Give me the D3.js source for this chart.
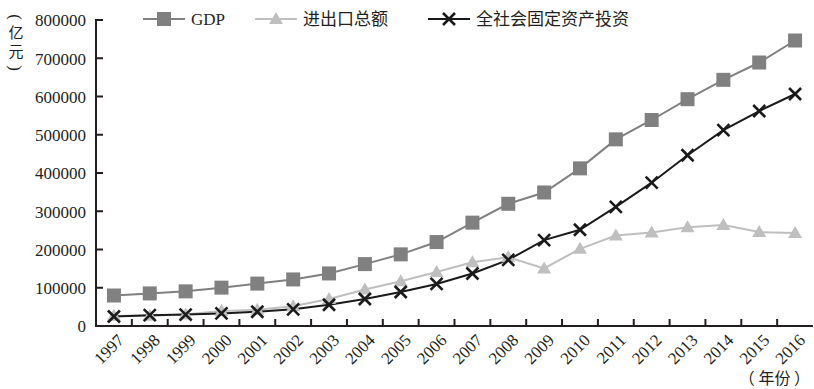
<!DOCTYPE html>
<html>
<head>
<meta charset="utf-8">
<script src="https://cdn.jsdelivr.net/npm/d3@7"></script>
<style>
  body { margin: 0; background: #fff; }
  svg text { font-family: "Liberation Serif", "Noto Sans CJK SC", serif; fill: #231f20; }
  .cjk { font-family: "Noto Sans CJK SC", sans-serif; }
</style>
</head>
<body>
<div id="chart"></div>
<script>
// data (亿元)
var years = ["1997","1998","1999","2000","2001","2002","2003","2004","2005","2006",
             "2007","2008","2009","2010","2011","2012","2013","2014","2015","2016"];
var gdp = [79715, 85196, 90564, 100280, 110863, 121717, 137422, 161840, 187319, 219439,
           270232, 319516, 349081, 412119, 487940, 538580, 592963, 643563, 688858, 746395];
var trade = [26967, 26850, 29896, 39273, 42184, 51378, 70484, 95539, 116922, 140974,
             166864, 179921, 150648, 201722, 236402, 244160, 258169, 264242, 245503, 243386];
var invest = [24941, 28406, 29855, 32918, 37214, 43500, 55567, 70477, 88774, 109998,
              137324, 172828, 224599, 251684, 311485, 374695, 446294, 512021, 561999, 606466];
var yTicks = [0, 100000, 200000, 300000, 400000, 500000, 600000, 700000, 800000];

var W = 814, H = 389;
var ink = "#231f20";
var svg = d3.select("#chart").append("svg")
    .attr("width", W)
    .attr("height", H);

var x = d3.scaleBand().domain(years).range([96, 813]);
var y = d3.scaleLinear().domain([0, 800000]).range([326, 20]);

// y axis labels
var yAxis = svg.append("g")
    .attr("transform", "translate(96,0)")
    .call(d3.axisLeft(y).tickValues(yTicks).tickFormat(d3.format("d")).tickSize(0).tickPadding(10));
yAxis.select(".domain").remove();
yAxis.selectAll(".tick text").style("font-size", "17px").attr("dy", "0.35em");

// x axis labels
var xAxis = svg.append("g")
    .attr("transform", "translate(0,326)")
    .call(d3.axisBottom(x).tickSize(0).tickPadding(0));
xAxis.select(".domain").remove();
xAxis.selectAll(".tick text")
    .style("font-size", "17px")
    .attr("x", 0).attr("y", 0)
    .attr("dy", "0.35em")
    .attr("text-anchor", "end")
    .attr("transform", "translate(7,11) rotate(-45)");

var cx = function(i) { return x(years[i]) + x.bandwidth() / 2; };
var line = d3.line().x(function(d, i) { return cx(i); }).y(function(d) { return y(d); });

var series = [
  {name: "GDP", values: gdp, color: "#808080", marker: "square"},
  {name: "进出口总额", values: trade, color: "#bfbfbf", marker: "triangle"},
  {name: "全社会固定资产投资", values: invest, color: "#1a1a1a", marker: "cross"}
];

function drawMarker(g, type, color) {
  if (type === "square") {
    g.append("rect").attr("x", -7).attr("y", -7).attr("width", 14).attr("height", 14).attr("fill", color);
  } else if (type === "triangle") {
    g.append("path").attr("d", "M0,-7L7,5H-7Z").attr("fill", color);
  } else {
    g.append("path").attr("d", "M-6,-6L6,6M6,-6L-6,6").attr("stroke", color).attr("stroke-width", 2.6);
  }
}

series.forEach(function(s) {
  svg.append("path")
      .datum(s.values)
      .attr("fill", "none")
      .attr("stroke", s.color)
      .attr("stroke-width", 2)
      .attr("d", line);
});
series.forEach(function(s) {
  s.values.forEach(function(v, i) {
    var g = svg.append("g").attr("transform", "translate(" + cx(i) + "," + y(v) + ")");
    drawMarker(g, s.marker, s.color);
  });
});

// legend
var legX = [143, 255, 428];
series.forEach(function(s, i) {
  var g = svg.append("g").attr("transform", "translate(" + legX[i] + ",19)");
  g.append("line").attr("x1", 0).attr("x2", 42).attr("stroke", s.color).attr("stroke-width", 2);
  var m = g.append("g").attr("transform", "translate(21,0)");
  drawMarker(m, s.marker, s.color);
  g.append("text")
      .attr("class", i > 0 ? "cjk" : null)
      .attr("x", 48).attr("y", 0).attr("dy", "0.35em")
      .style("font-size", "17px")
      .text(s.name);
});

// unit label, stacked vertically
var unitChars = [{c: "(", y: 17, rot: true}, {c: "亿", y: 33, rot: false},
                 {c: "元", y: 52, rot: false}, {c: ")", y: 68, rot: true}];
unitChars.forEach(function(u) {
  svg.append("text")
      .attr("class", u.rot ? null : "cjk")
      .attr("text-anchor", "middle")
      .attr("dy", "0.35em")
      .attr("transform", "translate(16," + u.y + ")" + (u.rot ? " rotate(90)" : ""))
      .style("font-size", u.rot ? "17px" : "15px")
      .text(u.c);
});
svg.append("text").attr("class", "cjk")
    .attr("x", 810).attr("y", 384)
    .attr("text-anchor", "end")
    .style("font-size", "16px")
    .text("（ 年份 ）");

// axis strokes, drawn last
var axes = svg.append("g");
axes.append("rect").attr("x", 95).attr("width", 2)
    .attr("y", y(800000) - 1).attr("height", y(0) - y(800000) + 2)
    .attr("fill", ink);
axes.append("rect").attr("x", 95).attr("width", 813 - 95)
    .attr("y", y(0) - 1).attr("height", 2)
    .attr("fill", ink);
yTicks.slice(1).forEach(function(t) {
  axes.append("rect").attr("x", 96).attr("width", 7)
      .attr("y", y(t) - 1).attr("height", 2)
      .attr("fill", ink);
});
years.slice(1).forEach(function(yr) {
  axes.append("rect").attr("x", x(yr) - 1).attr("width", 2)
      .attr("y", y(0) - 7).attr("height", 7)
      .attr("fill", ink);
});
</script>
</body>
</html>
